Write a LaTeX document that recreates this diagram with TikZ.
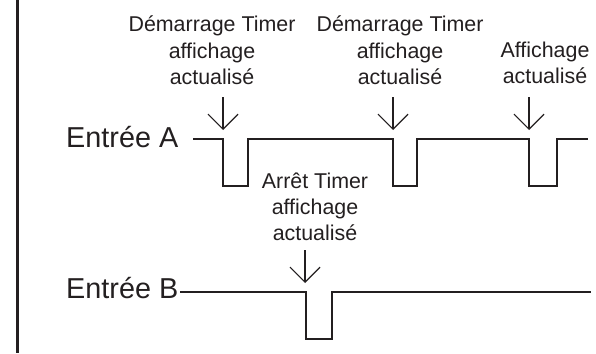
\documentclass[tikz,border=0pt]{standalone}
\usepackage{fontspec}
\setmainfont{Liberation Sans}
\usetikzlibrary{arrows.meta}
\definecolor{ink}{RGB}{35,31,32}
\tikzset{
  sig/.style={draw=ink, line width=2pt, line join=miter},
  arr/.style={draw=ink, line width=1.2pt, -{Straight Barb[length=15pt,width=30pt,line width=1.2pt]}},
  lbl/.style={text=ink, font=\fontsize{21.4}{26}\selectfont, align=center, anchor=base, inner sep=0pt},
  big/.style={text=ink, font=\fontsize{28.8}{34}\selectfont, anchor=base west, inner sep=0pt}
}
\begin{document}
\begin{tikzpicture}[x=1pt,y=-1pt]
\useasboundingbox (0,0) rectangle (596,353);
% left border line
\coordinate (lt) at (17.5,0);
\coordinate (lb) at (17.5,353);
\draw[draw=ink, line width=3pt] (lt) -- (lb);
% labels (base anchor = baseline of the last line)
\node[big] (eA) at (66,147) {Entrée A};
\node[big] (eB) at (66,298) {Entrée B};
\node[lbl] (l1) at (212,84) {Démarrage Timer\\affichage\\actualisé};
\node[lbl] (l2) at (400,84) {Démarrage Timer\\affichage\\actualisé};
\node[lbl] (l3) at (545,83) {Affichage\\actualisé};
\node[lbl] (l4) at (315,240) {Arrêt Timer\\affichage\\actualisé};
% arrows
\coordinate (a1s) at (223,97);  \coordinate (a1e) at (223,130);
\coordinate (a2s) at (393,97);  \coordinate (a2e) at (393,130);
\coordinate (a3s) at (529,97);  \coordinate (a3e) at (529,130);
\coordinate (a4s) at (305,250); \coordinate (a4e) at (305,283);
\draw[arr] (a1s) -- (a1e);
\draw[arr] (a2s) -- (a2e);
\draw[arr] (a3s) -- (a3e);
\draw[arr] (a4s) -- (a4e);
% signal A
\coordinate (sA0) at (193,139);
\coordinate (sA1) at (588,139);
\draw[sig] (sA0) -- (223,139) -- (223,186) -- (248,186) -- (248,139)
  -- (393,139) -- (393,186) -- (417,186) -- (417,139)
  -- (529,139) -- (529,186) -- (557,186) -- (557,139) -- (sA1);
% signal B
\coordinate (sB0) at (180,292);
\coordinate (sB1) at (591,292);
\draw[sig] (sB0) -- (306,292) -- (306,339) -- (332,339) -- (332,292) -- (sB1);
\end{tikzpicture}
\end{document}
